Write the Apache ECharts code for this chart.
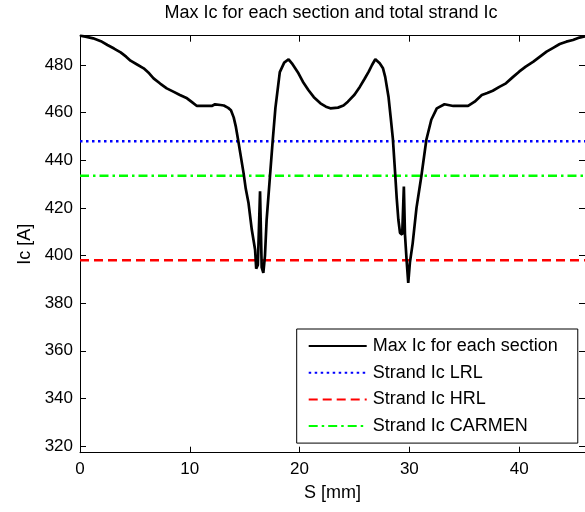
<!DOCTYPE html>
<html>
<head>
<meta charset="utf-8">
<script src="https://cdn.jsdelivr.net/npm/echarts@6/dist/echarts.min.js"></script>
<style>
  html, body { margin: 0; padding: 0; background: #fff; }
  #chart { width: 585px; height: 512px; }
</style>
</head>
<body>
<div id="chart"></div>
<script>
// Position along the strand, S [mm]
const sPositions = [
  0.0, 0.5, 1.2, 1.9, 2.5, 3.1, 3.7, 4.2, 4.6, 5.2, 5.8, 6.3, 6.7, 7.3, 7.9, 8.5, 9.1, 9.75,
  10.2, 10.65, 11.3, 12.0, 12.3, 12.8, 13.1, 13.5, 13.75, 14.0, 14.2, 14.4, 14.6, 14.9, 15.1,
  15.35, 15.65, 15.95, 16.05, 16.2, 16.4, 16.55, 16.7, 16.85, 17.0, 17.3, 17.55, 17.8, 18.2,
  18.6, 19.0, 19.3, 19.9, 20.3, 20.8, 21.3, 21.9, 22.4, 22.8, 23.5, 24.0, 24.4, 25.0, 25.5,
  25.9, 26.3, 26.6, 26.9, 27.3, 27.6, 27.8, 28.1, 28.3, 28.5, 28.7, 28.85, 29.0, 29.15, 29.35,
  29.5, 29.6, 29.75, 29.9, 30.05, 30.3, 30.65, 31.1, 31.55, 32.0, 32.5, 33.2, 34.0, 35.35,
  35.95, 36.6, 37.1, 37.6, 38.2, 38.8, 39.4, 40.0, 40.6, 41.3, 41.9, 42.5, 43.1, 43.7, 44.3,
  44.9, 45.5, 46.0
];
// Max Ic for each section [A]
const maxIcValues = [
  492.3, 491.9, 491.2, 490.0, 488.4, 486.9, 485.3, 483.5, 481.8, 480.2, 478.6, 476.5, 474.4,
  472.2, 470.2, 468.8, 467.4, 466.0, 464.4, 462.8, 462.8, 462.8, 463.5, 463.2, 463.0, 462.0,
  461.0, 458.0, 454.0, 448.6, 443.0, 434.6, 428.0, 422.0, 410.8, 402.4, 394.5, 396.0, 427.0,
  395.0, 392.7, 400.0, 415.0, 433.0, 448.0, 462.0, 477.0, 481.0, 482.4, 480.7, 476.5, 473.0,
  469.5, 466.5, 463.9, 462.5, 461.8, 462.1, 463.0, 464.6, 467.5, 470.9, 474.0, 477.2, 480.0,
  482.4, 480.7, 478.6, 475.0, 466.7, 458.0, 449.0, 435.0, 424.0, 415.0, 409.5, 408.8, 429.0,
  409.0, 398.0, 388.5, 397.0, 405.0, 420.0, 433.5, 448.6, 457.0, 461.8, 463.5, 462.8, 462.8,
  464.6, 467.4, 468.2, 469.2, 470.8, 472.3, 474.8, 477.2, 479.3, 481.4, 483.5, 485.6, 487.2,
  488.8, 489.8, 490.5, 491.5, 492.0
];
// Strand Ic reference levels [A]
const strandLevelNames = ['Strand Ic LRL', 'Strand Ic HRL', 'Strand Ic CARMEN'];
const strandLevelValues = [448, 398, 433.5];
// Axis ranges and tick labels
const sRange = [0, 46];
const icRange = [317.2, 492.3];
const sTicks = [0, 10, 20, 30, 40];
const icTicks = [320, 340, 360, 380, 400, 420, 440, 460, 480];

const FONT = '"Liberation Sans", Arial, sans-serif';

const curveData = sPositions.map((s, i) => [s, maxIcValues[i]]);
const levelLine = v => [[sRange[0], v], [sRange[1], v]];

const levelStyles = [
  { color: '#0000ff', type: [2.5, 3.5] },
  { color: '#ff0000', type: [9, 5] },
  { color: '#00ff00', type: [9, 4, 2.5, 4] }
];

const chart = echarts.init(document.getElementById('chart'), null, { renderer: 'canvas' });

const baseX = {
  type: 'value', min: sRange[0], max: sRange[1],
  splitLine: { show: false },
  axisLine: { onZero: false, lineStyle: { color: '#000', width: 1 } },
  axisTick: { inside: true, length: 6, customValues: sTicks, lineStyle: { color: '#000' } }
};
const baseY = {
  type: 'value', min: icRange[0], max: icRange[1],
  splitLine: { show: false },
  axisLine: { onZero: false, lineStyle: { color: '#000', width: 1 } },
  axisTick: { inside: true, length: 6, customValues: icTicks, lineStyle: { color: '#000' } }
};

chart.setOption({
  animation: false,
  backgroundColor: '#fff',
  title: {
    text: 'Max Ic for each section and total strand Ic',
    left: 331, top: 4, textAlign: 'center', padding: 0,
    textStyle: { fontFamily: FONT, fontSize: 18, fontWeight: 'normal', color: '#000' }
  },
  grid: { left: 80, right: -1, top: 35.7, bottom: 59.3, containLabel: false },
  xAxis: [
    Object.assign({}, baseX, {
      position: 'bottom',
      name: 'S [mm]', nameLocation: 'middle', nameGap: 31,
      nameTextStyle: { fontFamily: FONT, fontSize: 18, color: '#000' },
      axisLabel: {
        customValues: sTicks, margin: 8,
        fontFamily: FONT, fontSize: 17, color: '#000'
      }
    }),
    Object.assign({}, baseX, { position: 'top', axisLabel: { show: false } })
  ],
  yAxis: [
    Object.assign({}, baseY, {
      position: 'left',
      name: 'Ic [A]', nameLocation: 'middle', nameGap: 43, nameRotate: 90,
      nameTextStyle: { fontFamily: FONT, fontSize: 18, color: '#000' },
      axisLabel: {
        customValues: icTicks, margin: 7,
        fontFamily: FONT, fontSize: 17, color: '#000'
      }
    }),
    Object.assign({}, baseY, { position: 'right', axisLabel: { show: false } })
  ],
  legend: {
    orient: 'vertical',
    left: 296.7, top: 329,
    padding: [8, 20, 8, 11],
    itemGap: 8.7,
    itemWidth: 58, itemHeight: 14,
    backgroundColor: '#fff',
    borderColor: '#000', borderWidth: 1, borderRadius: 0,
    // line-only keys: the marker in the middle of each key is hidden
    itemStyle: { color: 'rgba(0,0,0,0)', borderColor: 'rgba(0,0,0,0)', borderWidth: 0 },
    textStyle: { fontFamily: FONT, fontSize: 18, color: '#000', lineHeight: 18, padding: [0, 0, 0, 1] },
    data: ['Max Ic for each section'].concat(strandLevelNames)
  },
  series: [
    {
      name: 'Max Ic for each section', type: 'line',
      data: curveData, symbol: 'none', showSymbol: false,
      lineStyle: { color: '#000', width: 2.7 },
      itemStyle: { color: '#000' },
      z: 3
    }
  ].concat(strandLevelNames.map((name, i) => ({
    name, type: 'line',
    data: levelLine(strandLevelValues[i]),
    symbol: 'none', showSymbol: false,
    lineStyle: { color: levelStyles[i].color, width: 2.6, type: levelStyles[i].type },
    itemStyle: { color: levelStyles[i].color },
    z: 2
  })))
});
</script>
</body>
</html>
